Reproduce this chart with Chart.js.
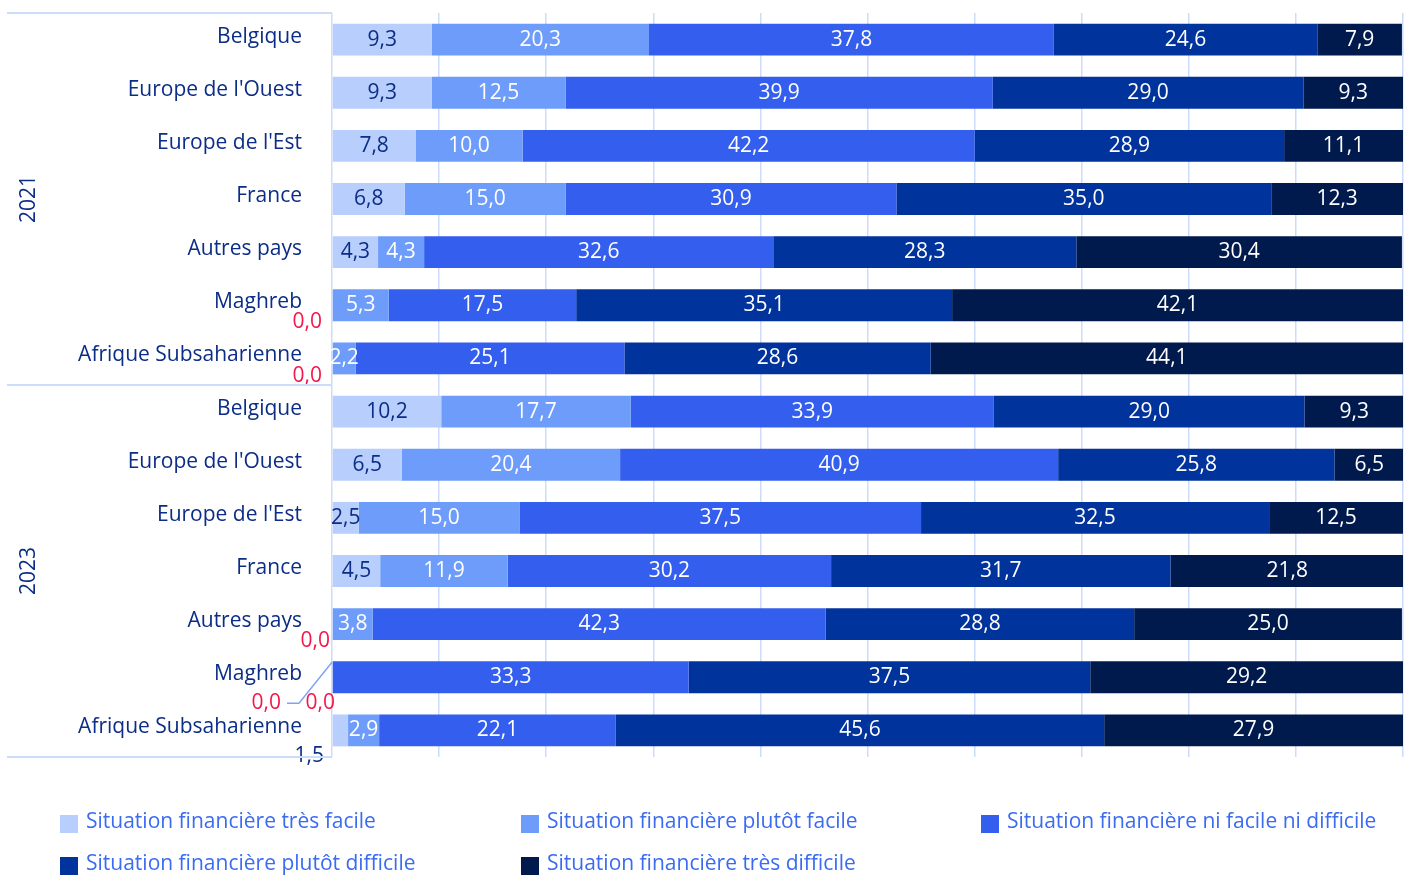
<!DOCTYPE html>
<html><head><meta charset="utf-8">
<script src="https://cdn.jsdelivr.net/npm/chart.js@4"></script>
<style>html,body{margin:0;padding:0;background:#fff}#wrap{width:1410px;height:876px;position:relative}</style>
</head><body><div id="wrap"><canvas id="c"></canvas></div>
<script>
const regions = ['Belgique', "Europe de l'Ouest", "Europe de l'Est", 'France', 'Autres pays', 'Maghreb', 'Afrique Subsaharienne'];
const years = ['2021', '2023'];
const categories = regions.concat(regions);
const seriesNames = ['Situation financière très facile','Situation financière plutôt facile','Situation financière ni facile ni difficile','Situation financière plutôt difficile','Situation financière très difficile'];
const tresFacile   = [9.3, 9.3, 7.8, 6.8, 4.3, 0.0, 0.0, 10.2, 6.5, 2.5, 4.5, 0.0, 0.0, 1.5];
const plutotFacile = [20.3, 12.5, 10.0, 15.0, 4.3, 5.3, 2.2, 17.7, 20.4, 15.0, 11.9, 3.8, 0.0, 2.9];
const niFacileNiDifficile = [37.8, 39.9, 42.2, 30.9, 32.6, 17.5, 25.1, 33.9, 40.9, 37.5, 30.2, 42.3, 33.3, 22.1];
const plutotDifficile = [24.6, 29.0, 28.9, 35.0, 28.3, 35.1, 28.6, 29.0, 25.8, 32.5, 31.7, 28.8, 37.5, 45.6];
const tresDifficile   = [7.9, 9.3, 11.1, 12.3, 30.4, 42.1, 44.1, 9.3, 6.5, 12.5, 21.8, 25.0, 29.2, 27.9];

const colors = ['#b8cefc', '#6e9cfb', '#345eee', '#00339b', '#001a4e'];
const labelColors = ['#0b2d87', '#ffffff', '#ffffff', '#ffffff', '#ffffff'];
const NAVY = '#0b2d87', RED = '#f5164c', GRID = '#cddcfb', LEG = '#3a6bf1';
const FONT = '"Open Sans", sans-serif';
const FS = '21px ';

const fmt = v => v.toFixed(1).replace('.', ',');

// positions for labels of very small segments drawn outside the bar
const outside = {
  '0-5':  {dx: -10, dy: 17, c: RED},
  '0-6':  {dx: -10, dy: 18, c: RED},
  '0-11': {dx: -2,  dy: 17, c: RED},
  '0-12': {dx: -51, dy: 26, c: RED, leader: true},
  '1-12': {dx: 3,   dy: 26, c: RED},
  '0-13': {dx: -8,  dy: 26, c: NAVY}
};

const labelsPlugin = {
  id: 'labels',
  afterDatasetsDraw(chart) {
    const ctx = chart.ctx, area = chart.chartArea;
    ctx.save();
    ctx.font = FS + FONT;
    ctx.textBaseline = 'middle';
    chart.data.datasets.forEach((ds, di) => {
      const meta = chart.getDatasetMeta(di);
      meta.data.forEach((bar, i) => {
        const v = ds.data[i];
        const key = di + '-' + i;
        if (outside[key]) {
          const o = outside[key];
          ctx.fillStyle = o.c;
          ctx.textAlign = 'right';
          ctx.fillText(fmt(v), area.left + o.dx, bar.y + o.dy);
          if (o.leader) {
            ctx.strokeStyle = '#7fa4f7';
            ctx.lineWidth = 1.5;
            ctx.beginPath();
            ctx.moveTo(area.left, bar.y - 15);
            ctx.lineTo(area.left - 33, bar.y + o.dy);
            ctx.lineTo(area.left - 45, bar.y + o.dy);
            ctx.stroke();
          }
          return;
        }
        if (v <= 0) return;
        ctx.fillStyle = labelColors[di];
        ctx.textAlign = 'center';
        ctx.fillText(fmt(v), (bar.x + bar.base) / 2, bar.y);
      });
    });
    ctx.restore();
  },
  afterDraw(chart) {
    const ctx = chart.ctx, area = chart.chartArea, y = chart.scales.y;
    ctx.save();
    // category labels
    ctx.font = FS + FONT;
    ctx.fillStyle = NAVY;
    ctx.textAlign = 'right';
    ctx.textBaseline = 'middle';
    categories.forEach((c, i) => {
      ctx.fillText(c, area.left - 30, y.getPixelForValue(i) - 3);
    });
    // group separators
    ctx.strokeStyle = GRID;
    ctx.lineWidth = 2;
    const n = regions.length;
    const step = (area.bottom - area.top) / categories.length;
    [0, n, 2 * n].forEach(k => {
      const yy = area.top + k * step;
      ctx.beginPath();
      ctx.moveTo(7, yy);
      ctx.lineTo(area.left, yy);
      ctx.stroke();
    });
    // year labels
    years.forEach((yr, g) => {
      const yc = area.top + (g * n + n / 2) * step;
      ctx.save();
      ctx.translate(29, yc);
      ctx.rotate(-Math.PI / 2);
      ctx.textAlign = 'center';
      ctx.textBaseline = 'middle';
      ctx.fillStyle = NAVY;
      ctx.fillText(yr, 0, 0);
      ctx.restore();
    });
    // legend
    const colX = [60, 521, 981];
    const rowY = [823, 865];
    chart.data.datasets.forEach((ds, di) => {
      const col = di % 3, row = Math.floor(di / 3);
      ctx.fillStyle = ds.backgroundColor;
      ctx.fillRect(colX[col], rowY[row] - 8, 18, 18);
      ctx.fillStyle = LEG;
      ctx.textAlign = 'left';
      ctx.fillText(ds.label, colX[col] + 26, rowY[row] - 1);
    });
    ctx.restore();
  }
};

const series = [tresFacile, plutotFacile, niFacileNiDifficile, plutotDifficile, tresDifficile];

new Chart(document.getElementById('c'), {
  type: 'bar',
  data: {
    labels: categories,
    datasets: series.map((d, i) => ({
      label: seriesNames[i],
      data: d,
      backgroundColor: colors[i],
      borderWidth: 0,
      categoryPercentage: 0.6,
      barPercentage: 1
    }))
  },
  options: {
    indexAxis: 'y',
    responsive: true,
    maintainAspectRatio: false,
    animation: false,
    layout: {padding: {left: 332, right: 7, top: 13, bottom: 119}},
    plugins: {legend: {display: false}, tooltip: {enabled: false}},
    scales: {
      x: {
        stacked: true, min: 0, max: 100,
        ticks: {display: false, stepSize: 10},
        grid: {color: GRID, lineWidth: 1.5, drawTicks: false},
        border: {display: false}
      },
      y: {stacked: true, display: false}
    }
  },
  plugins: [labelsPlugin]
});
</script></body></html>
